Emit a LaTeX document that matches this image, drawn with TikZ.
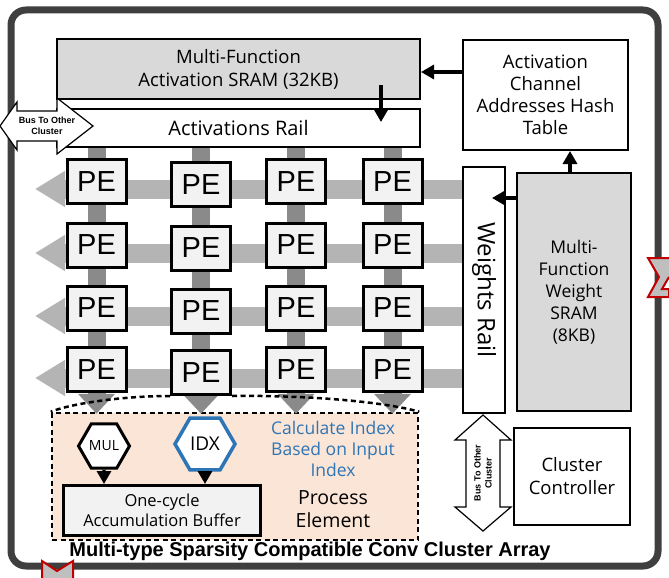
\documentclass[tikz,border=0pt]{standalone}
\usepackage{fontspec}
\setmainfont{Open Sans}
\newfontfamily\arialf{Liberation Sans}
\usetikzlibrary{arrows.meta,shapes.geometric}
\definecolor{framec}{HTML}{3F3F3F}
\definecolor{sramg}{HTML}{D9D9D9}
\definecolor{peg}{HTML}{F2F2F2}
\definecolor{hbandc}{HTML}{B4B4B4}
\definecolor{vbandc}{HTML}{8A8A8A}
\definecolor{peach}{HTML}{FBE5D6}
\definecolor{idxblue}{HTML}{2E75B6}
\definecolor{redm}{HTML}{C00000}
\definecolor{grayfill}{HTML}{BFBFBF}
\tikzset{
  blk/.style={draw=black, line width=2pt, inner sep=0pt, align=center},
  pebox/.style={draw=black, line width=3pt, fill=peg, inner sep=0pt,
    minimum width=59pt, minimum height=44pt, font=\arialf\fontsize{29}{29}\selectfont},
  hb/.style={draw=hbandc, line width=19pt, -{Triangle[length=30pt,width=34pt]}},
  vb/.style={draw=vbandc, line width=18pt},
  vbh/.style={vb, -{Triangle[length=12pt,width=34pt]}},
  barrow/.style={draw=black, line width=3.2pt, -{Triangle[length=13pt,width=14pt]}},
  busarrow/.style={draw=black, line width=1.2pt, fill=white},
  bustext/.style={font=\arialf\bfseries\fontsize{9}{11}\selectfont, align=center, inner sep=0pt},
  dashcurve/.style={draw=black, line width=2.5pt, dash pattern=on 5pt off 3.5pt},
}
\begin{document}
\begin{tikzpicture}[x=1pt,y=-1pt]
\useasboundingbox (0,0) rectangle (669,578);
\fill[white] (0,0) rectangle (669,578);
% outer frame
\draw[framec, line width=7pt, rounded corners=15pt] (11,10) rectangle (658,566);

% activation SRAM and rail
\node[blk, fill=sramg, minimum width=363pt, minimum height=59pt,
  font=\fontsize{18.5}{23}\selectfont] (sram) at (238.5,69) {Multi-Function\\Activation SRAM (32KB)};
\node[blk, fill=white, minimum width=363pt, minimum height=38pt,
  font=\fontsize{20}{24}\selectfont] (rail) at (238.5,128) {Activations Rail};

% hash table
\node[blk, fill=white, minimum width=165pt, minimum height=110pt,
  font=\fontsize{18.5}{22}\selectfont] (hash) at (545.5,95) {Activation\\Channel\\Addresses Hash\\Table};

% weight SRAM
\node[blk, fill=sramg, minimum width=114pt, minimum height=238pt,
  font=\fontsize{17.5}{22}\selectfont] (wsram) at (574,292) {Multi-\\Function\\Weight\\SRAM\\(8KB)};

% process element region
\node[draw=black, fill=peach, line width=2.5pt, dash pattern=on 5pt off 3.5pt,
  minimum width=366pt, minimum height=127pt, inner sep=0pt] (pereg) at (235,476.5) {};

% horizontal bands
\foreach \r/\y in {1/189,2/253,3/316,4/378} {
  \coordinate (ht\r) at (35,\y);
  \draw[hb] (484,\y) -- (ht\r);
}

% weights rail
\node[blk, fill=white, minimum width=42pt, minimum height=246pt] (wrail) at (484,290) {};
\node[rotate=-90, font=\fontsize{24}{26}\selectfont, inner sep=0pt] (wrailt) at (wrail) {Weights Rail};

% PEs
\foreach \c/\x/\dy in {1/96.5/0, 2/201/3, 3/296/0, 4/392.5/0} {
  \foreach \r/\y in {1/181.5,2/245,3/308,4/369.5} {
    \coordinate (pc\r\c) at (\x,\y+\dy);
  }
}
% vertical bands
\foreach \c in {1,2,3,4} {
  \draw[vb] (rail.south -| pc1\c) -- (pc1\c);
  \draw[vbh] (pc1\c) -- ([yshift=-25pt]pc2\c);
  \draw[vbh] (pc2\c) -- ([yshift=-25pt]pc3\c);
  \draw[vbh] (pc3\c) -- ([yshift=-25pt]pc4\c);
  \draw[vb, -{Triangle[length=20pt,width=36pt]}] (pc4\c) -- ([yshift=-2pt]pereg.north -| pc4\c);
}
\foreach \c in {1,2,3,4} {
  \foreach \r in {1,2,3,4} {
    \node[pebox] (p\r\c) at (pc\r\c) {PE};
  }
}

% dashed curves to process element detail
\draw[dashcurve] (p42.south west) .. controls (120,396) and (70,404) .. (pereg.north west);
\draw[dashcurve] (p42.south east) .. controls (310,395) and (385,402) .. (pereg.north east);

% MUL / IDX
\node[draw=black, line width=3pt, fill=white, regular polygon, regular polygon sides=6,
  minimum size=51pt, inner sep=0pt, font=\fontsize{14}{14}\selectfont] (mul) at (104,446) {MUL};
\node[draw=idxblue, line width=3.5pt, fill=white, regular polygon, regular polygon sides=6,
  minimum size=60pt, inner sep=0pt, font=\fontsize{19}{19}\selectfont] (idx) at (205,444) {IDX};
\node[draw=black, line width=3pt, fill=peg, minimum width=197pt, minimum height=50pt,
  inner sep=0pt, align=center, font=\fontsize{16.5}{20}\selectfont] (acc) at (162,510.5)
  {One-cycle\\Accumulation Buffer};
\draw[barrow] (mul.south) -- (acc.north -| mul);
\draw[barrow] (idx.south) -- (acc.north -| idx);
\node[text=idxblue, align=center, font=\fontsize{17.5}{21}\selectfont, inner sep=0pt] (calc) at (333,449)
  {Calculate Index\\Based on Input\\Index};
\node[align=center, font=\fontsize{19.5}{23}\selectfont, inner sep=0pt] (pelab) at (333,509)
  {Process\\Element};

% arrows between memories
\coordinate (hy) at (0,72);
\draw[barrow] (hash.west |- hy) -- (sram.east |- hy);
\coordinate (sramout) at (381,85);
\coordinate (railin) at (381,122);
\draw[barrow] (sramout) -- (railin);
\coordinate (hx) at (570,0);
\draw[barrow] (wsram.north -| hx) -- (hash.south -| hx);
\coordinate (wy) at (0,198);
\coordinate (wrin) at (492,198);
\draw[barrow] (wsram.west |- wy) -- (wrin);

% horizontal bus
\coordinate (busLtip) at (0,126);
\coordinate (busRtip) at (93,126);
\draw[busarrow] (busLtip) -- (17,102) -- (17,111) -- (57,111) -- (57,98) -- (busRtip)
  -- (57,154) -- (57,141) -- (17,141) -- (17,150) -- cycle;
\node[bustext] (busht) at (47,126) {Bus To Other\\Cluster};

% vertical bus
\coordinate (busTtip) at (483,415);
\coordinate (busBtip) at (483,531);
\draw[busarrow] (busTtip) -- (511,440) -- (500,440) -- (500,507) -- (511,507) -- (busBtip)
  -- (455,507) -- (466,507) -- (466,440) -- (455,440) -- cycle;
\node[bustext, rotate=90] (busvt) at (483,473) {Bus To Other\\Cluster};

% cluster controller
\node[blk, fill=white, minimum width=116pt, minimum height=97pt,
  font=\fontsize{18.5}{23}\selectfont] (ctrl) at (572,476.5) {Cluster\\Controller};

% caption
\node[font=\arialf\bfseries\fontsize{20}{22}\selectfont, inner sep=0pt] (cap) at (310,551)
  {Multi-type Sparsity Compatible Conv Cluster Array};

% partial red marks at the edges
\draw[redm, line width=2pt, fill=grayfill] (669,258) -- (648,258) -- (659,277) -- (648,297) -- (669,297) -- (669,289) -- (662,289) -- (669,277);
\draw[redm, line width=2pt, fill=grayfill] (42,578) -- (42,561) -- (57,571) -- (73,561) -- (73,578);
\end{tikzpicture}
\end{document}
